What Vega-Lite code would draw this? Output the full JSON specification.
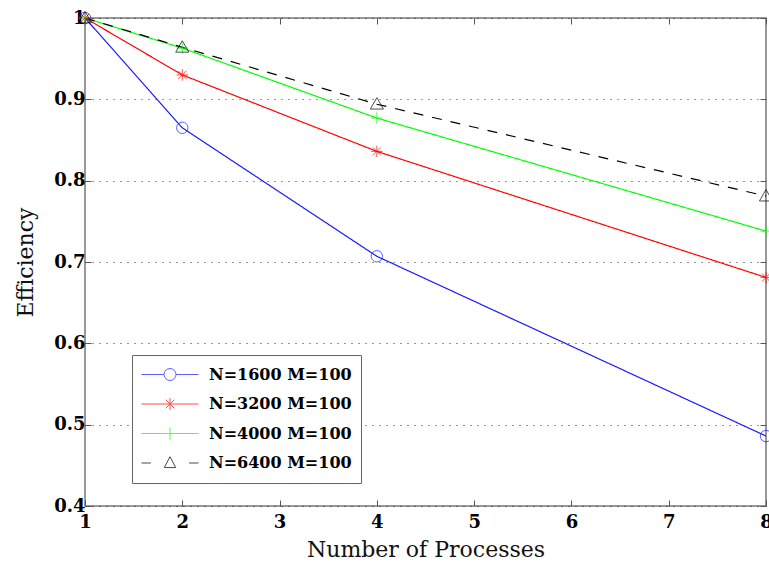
{
  "$schema": "https://vega.github.io/schema/vega-lite/v6.json",
  "width": 681,
  "height": 488,
  "autosize": "none",
  "padding": {"left": 85, "top": 18, "right": 3, "bottom": 57},
  "background": "white",
  "config": {"view": {"stroke": "#777", "strokeWidth": 1.5}},
  "data": {"values": [
    {"series": "N=1600 M=100", "p": 1, "eff": 1.0},
    {"series": "N=1600 M=100", "p": 2, "eff": 0.865},
    {"series": "N=1600 M=100", "p": 4, "eff": 0.707},
    {"series": "N=1600 M=100", "p": 8, "eff": 0.486},
    {"series": "N=3200 M=100", "p": 1, "eff": 1.0},
    {"series": "N=3200 M=100", "p": 2, "eff": 0.930},
    {"series": "N=3200 M=100", "p": 4, "eff": 0.836},
    {"series": "N=3200 M=100", "p": 8, "eff": 0.681},
    {"series": "N=4000 M=100", "p": 1, "eff": 1.0},
    {"series": "N=4000 M=100", "p": 2, "eff": 0.963},
    {"series": "N=4000 M=100", "p": 4, "eff": 0.877},
    {"series": "N=4000 M=100", "p": 8, "eff": 0.738},
    {"series": "N=6400 M=100", "p": 1, "eff": 1.0},
    {"series": "N=6400 M=100", "p": 2, "eff": 0.964},
    {"series": "N=6400 M=100", "p": 4, "eff": 0.894},
    {"series": "N=6400 M=100", "p": 8, "eff": 0.781}
  ]},
  "layer": [
    {
      "mark": {"type": "line", "strokeWidth": 1.2},
      "encoding": {
        "x": {"field": "p", "type": "quantitative",
          "scale": {"domain": [1, 8], "nice": false, "zero": false},
          "axis": {"orient": "bottom", "values": [1, 2, 3, 4, 5, 6, 7, 8], "format": "d",
            "labelFont": "DejaVu Serif", "labelFontWeight": "bold", "labelFontSize": 18, "labelColor": "#000",
            "labelFlush": false, "labelOverlap": false, "labelPadding": 13,
            "tickSize": -6, "tickColor": "#555", "domain": false, "grid": false,
            "title": "Number of Processes", "titleFont": "DejaVu Serif", "titleFontWeight": "normal",
            "titleFontSize": 22, "titleColor": "#111", "titlePadding": 8}},
        "y": {"field": "eff", "type": "quantitative",
          "scale": {"domain": [0.4, 1], "nice": false, "zero": false},
          "axis": {"orient": "left", "values": [0.4, 0.5, 0.6, 0.7, 0.8, 0.9, 1], "format": ".1~f",
            "labelFont": "DejaVu Serif", "labelFontWeight": "bold", "labelFontSize": 18, "labelColor": "#000",
            "labelFlush": false, "labelOverlap": false, "labelPadding": 6,
            "tickSize": -6, "tickColor": "#555", "domain": false,
            "grid": true, "gridDash": [1, 6], "gridColor": "#000", "gridWidth": 1, "gridOpacity": 0.8,
            "title": "Efficiency", "titleFont": "DejaVu Serif", "titleFontWeight": "normal",
            "titleFontSize": 22, "titleColor": "#111", "titlePadding": 16}},
        "color": {"field": "series", "type": "nominal",
          "scale": {"domain": ["N=1600 M=100", "N=3200 M=100", "N=4000 M=100", "N=6400 M=100"],
                    "range": ["#1a1aff", "#ff0000", "#00ff00", "#000000"]},
          "legend": null},
        "strokeDash": {"field": "series", "type": "nominal",
          "scale": {"domain": ["N=1600 M=100", "N=3200 M=100", "N=4000 M=100", "N=6400 M=100"],
                    "range": [[1, 0], [1, 0], [1, 0], [10, 9]]},
          "legend": null}
      }
    },
    {
      "mark": {"type": "point", "filled": false, "size": 130, "strokeWidth": 1},
      "encoding": {
        "x": {"field": "p", "type": "quantitative",
          "axis": {"orient": "top", "values": [1, 2, 3, 4, 5, 6, 7, 8], "labels": false,
            "tickSize": -6, "tickColor": "#555", "domain": false, "grid": false, "title": null}},
        "y": {"field": "eff", "type": "quantitative",
          "axis": {"orient": "right", "values": [0.4, 0.5, 0.6, 0.7, 0.8, 0.9, 1], "labels": false,
            "tickSize": -6, "tickColor": "#555", "domain": false, "grid": false, "title": null}},
        "color": {"field": "series", "type": "nominal",
          "scale": {"domain": ["N=1600 M=100", "N=3200 M=100", "N=4000 M=100", "N=6400 M=100"],
                    "range": ["#1a1aff", "#ff0000", "#00ff00", "#000000"]},
          "legend": null},
        "shape": {"field": "series", "type": "nominal",
          "scale": {"domain": ["N=1600 M=100", "N=3200 M=100", "N=4000 M=100", "N=6400 M=100"],
                    "range": ["circle", "M-1,0H1M0,-1V1M-0.7,-0.7L0.7,0.7M-0.7,0.7L0.7,-0.7", "M-1,0H1M0,-1V1", "M0,-1.15L1.15,0.85H-1.15Z"]},
          "legend": null}
      }
    },
    {
      "transform": [{"filter": "false"}],
      "mark": {"type": "point", "filled": false, "strokeWidth": 1},
      "encoding": {
        "color": {"field": "series", "type": "nominal",
          "scale": {"domain": ["N=1600 M=100", "N=3200 M=100", "N=4000 M=100", "N=6400 M=100"],
                    "range": ["#1a1aff", "#ff0000", "#00ff00", "#000000"]},
          "legend": {"orient": "none", "legendX": 47, "legendY": 337, "title": null,
            "strokeColor": "#666", "fillColor": "white", "padding": 9,
            "labelFont": "DejaVu Serif", "labelFontWeight": "bold", "labelFontSize": 16, "labelColor": "#000",
            "symbolSize": 3249, "symbolStrokeWidth": 1, "labelOffset": 10, "rowPadding": 8.5, "clipHeight": 21}},
        "shape": {"field": "series", "type": "nominal",
          "scale": {"domain": ["N=1600 M=100", "N=3200 M=100", "N=4000 M=100", "N=6400 M=100"],
                    "range": [
                      "M-1,0H-0.21M0.21,0H1M0.21,0A0.21,0.21 0 1,1 -0.21,0A0.21,0.21 0 1,1 0.21,0",
                      "M-1,0H1M0,-0.21V0.21M-0.15,-0.15L0.15,0.15M-0.15,0.15L0.15,-0.15",
                      "M-1,0H1M0,-0.22V0.22",
                      "M-1,0H-0.67M0.67,0H1M0,-0.22L0.2,0.16H-0.2Z"]},
          "legend": {"orient": "none", "legendX": 47, "legendY": 337, "title": null,
            "strokeColor": "#666", "fillColor": "white", "padding": 9,
            "labelFont": "DejaVu Serif", "labelFontWeight": "bold", "labelFontSize": 16, "labelColor": "#000",
            "symbolSize": 3249, "symbolStrokeWidth": 1, "labelOffset": 10, "rowPadding": 8.5, "clipHeight": 21}}
      }
    }
  ],
  "resolve": {
    "scale": {"shape": "independent", "color": "independent", "strokeDash": "independent"},
    "axis": {"x": "independent", "y": "independent"}
  }
}
